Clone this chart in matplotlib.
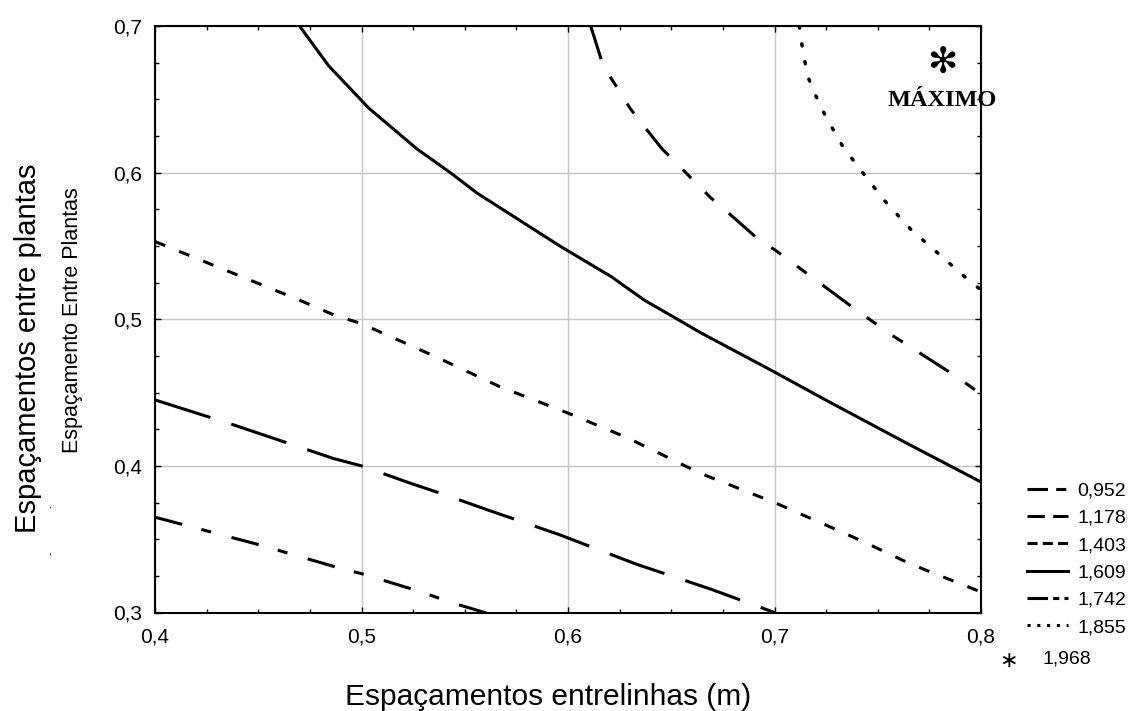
import matplotlib
matplotlib.use("Agg")
import matplotlib.pyplot as plt
from matplotlib import ticker
from matplotlib.lines import Line2D

# contour levels (legend) and the curves
levels = ["0,952", "1,178", "1,403", "1,609", "1,742", "1,855"]
max_label = "1,968"

c0952_x = [0.400, 0.451, 0.490, 0.500, 0.529, 0.543, 0.562]
c0952_y = [0.365, 0.346, 0.330, 0.3265, 0.314, 0.307, 0.299]

c1178_x = [0.400, 0.438, 0.4865, 0.500, 0.524, 0.541, 0.561, 0.596, 0.633, 0.669, 0.700]
c1178_y = [0.445, 0.428, 0.405, 0.400, 0.388, 0.380, 0.370, 0.353, 0.333, 0.316, 0.300]

c1403_x = [0.400, 0.470, 0.4865, 0.500, 0.535, 0.567, 0.600, 0.629, 0.664, 0.700, 0.734, 0.745, 0.766, 0.800]
c1403_y = [0.553, 0.513, 0.503, 0.497, 0.475, 0.454, 0.436, 0.419, 0.395, 0.375, 0.354, 0.347, 0.333, 0.314]

c1609_x = [0.470, 0.484, 0.5035, 0.527, 0.543, 0.556, 0.596, 0.621, 0.637, 0.653, 0.664, 0.700, 0.726, 0.766, 0.800]
c1609_y = [0.700, 0.673, 0.644, 0.616, 0.600, 0.586, 0.550, 0.529, 0.513, 0.500, 0.491, 0.464, 0.444, 0.414, 0.389]

c1742_x = [0.611, 0.617, 0.6215, 0.630, 0.636, 0.6457, 0.650, 0.657, 0.669, 0.6765, 0.6926, 0.700, 0.713, 0.737, 0.745, 0.757, 0.788, 0.800]
c1742_y = [0.700, 0.673, 0.663, 0.644, 0.633, 0.616, 0.610, 0.600, 0.583, 0.574, 0.554, 0.5475, 0.534, 0.509, 0.501, 0.489, 0.461, 0.449]

c1855_x = [0.712, 0.7136, 0.716, 0.7188, 0.7249, 0.733, 0.7427, 0.7532, 0.7662, 0.780, 0.7937, 0.800]
c1855_y = [0.700, 0.684, 0.666, 0.656, 0.638, 0.618, 0.600, 0.581, 0.561, 0.544, 0.527, 0.520]

max_x, max_y = 0.781, 0.675

plt.rcParams['font.family'] = ['Liberation Sans', 'DejaVu Sans']

fig = plt.figure(figsize=(11.36, 7.11), dpi=100)
ax = fig.add_axes([155 / 1136, 1 - 612.5 / 711, 826 / 1136, 586.5 / 711])

lw = 2.2
curves = [
    (c0952_x, c0952_y, (0, (9.2, 6.5, 3.3, 6.9))),
    (c1178_x, c1178_y, (0, (19, 7.2))),
    (c1403_x, c1403_y, (0, (3.6, 4.9))),
    (c1609_x, c1609_y, '-'),
    (c1742_x, c1742_y, (0, (11.4, 6.5, 3.9, 6.5, 3.9, 6.5))),
]
for xs, ys, ls in curves:
    ax.plot(xs, ys, color='black', lw=lw, linestyle=ls, zorder=3)
ax.plot(c1855_x, c1855_y, color='black', lw=lw + 0.3, linestyle=(0, (0.6, 4.6)),
        dash_capstyle='round', zorder=3)

# maximum marker
ax.text(max_x, max_y, "\u273B", family='DejaVu Sans', fontsize=26, fontweight='bold',
        ha='center', va='center', zorder=4)
ax.text(max_x, max_y - 0.0255, "MÁXIMO", family='Liberation Serif', fontsize=17.5,
        fontweight='bold', ha='center', va='center', zorder=4, clip_on=False)

ax.set_xlim(0.4, 0.8)
ax.set_ylim(0.3, 0.7)
ax.xaxis.set_major_locator(ticker.MultipleLocator(0.1))
ax.yaxis.set_major_locator(ticker.MultipleLocator(0.1))
ax.xaxis.set_minor_locator(ticker.MultipleLocator(0.025))
ax.yaxis.set_minor_locator(ticker.MultipleLocator(0.025))
fmt = ticker.FuncFormatter(lambda v, _: f"{v:.1f}".replace('.', ','))
ax.xaxis.set_major_formatter(fmt)
ax.yaxis.set_major_formatter(fmt)
ax.tick_params(which='both', direction='in', top=True, right=True, colors='black',
               labelsize=15, width=1)
ax.tick_params(which='major', length=4)
ax.tick_params(axis='x', which='major', pad=11)
ax.tick_params(axis='y', which='major', pad=9)
ax.tick_params(which='minor', length=3)
ax.grid(True, which='major', color='#c4c4c4', lw=1.0, zorder=0)
for s in ax.spines.values():
    s.set_linewidth(1.5)

# axis titles
fig.text(548 / 1136, 1 - 705 / 711, "Espaçamentos entrelinhas (m)", fontsize=21.5,
         ha='center', va='baseline')
fig.text(28 / 1136, 1 - 348 / 711, "Espaçamentos entre plantas", fontsize=21,
         rotation=90, ha='center', va='center')
fig.text(73 / 1136, 1 - 320 / 711, "Espaçamento Entre Plantas", fontsize=15.5,
         rotation=90, ha='center', va='center')
fig.text(50 / 1136, 1 - 505 / 711, ".", fontsize=8, ha='center', va='center')
fig.text(50 / 1136, 1 - 552 / 711, ",", fontsize=8, ha='center', va='center')

# legend
leg_styles = [(0, (6.7, 2.7, 3.3, 2.7)), (0, (5.7, 2.7)), (0, (3.3, 1.7)), '-',
              (0, (6.7, 1.7, 2, 1.7, 2, 1.7)), (0, (1, 2.2))]
handles = [Line2D([], [], color='black', lw=lw, linestyle=ls) for ls in leg_styles]
fig.legend(handles, levels, loc='upper left', bbox_to_anchor=(1027 / 1136, 1 - 482 / 711),
           frameon=False, fontsize=14, handlelength=2.1, handletextpad=0.5,
           labelspacing=0.5, borderpad=0, borderaxespad=0)
fig.text(1008 / 1136, 1 - 661 / 711, "\u2217", family='DejaVu Sans', fontsize=16,
         ha='center', va='center')
fig.text(1042 / 1136, 1 - 659 / 711, max_label, fontsize=14, ha='left', va='center')

fig.savefig("out.png", dpi=100)
